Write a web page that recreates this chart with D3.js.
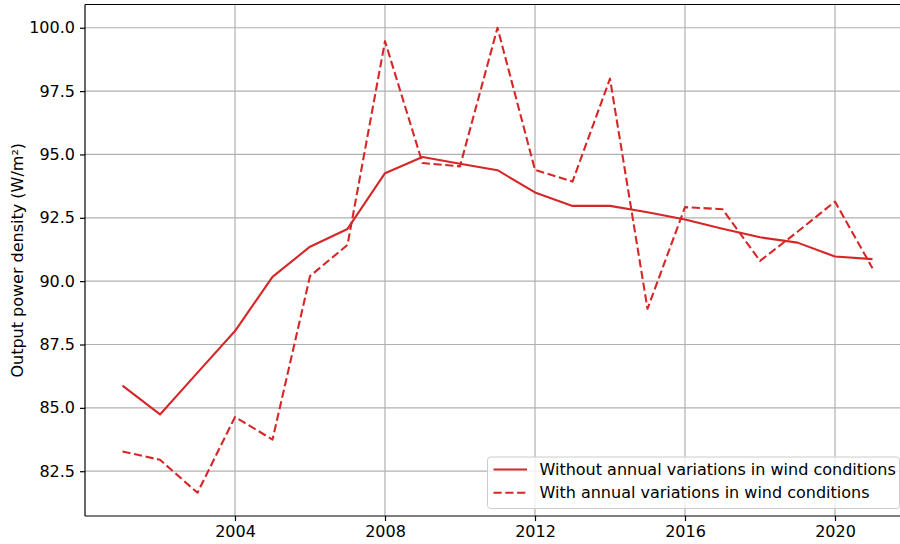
<!DOCTYPE html>
<html>
<head>
<meta charset="utf-8">
<script src="https://cdn.jsdelivr.net/npm/d3@7"></script>
<style>
  html, body { margin: 0; padding: 0; background: #fff; }
  svg { display: block; font-family: "DejaVu Sans", sans-serif; }
</style>
</head>
<body>
<svg id="chart" width="900" height="544"></svg>
<script>
// Annual output power density, 2001–2021
const years = [2001, 2002, 2003, 2004, 2005, 2006, 2007, 2008, 2009, 2010, 2011,
               2012, 2013, 2014, 2015, 2016, 2017, 2018, 2019, 2020, 2021];
const withoutVariation = [85.88, 84.74, 86.39, 88.03, 90.17, 91.36, 92.06, 94.26, 94.90, 94.63, 94.38,
                          93.50, 92.97, 92.97, 92.72, 92.43, 92.07, 91.73, 91.52, 90.97, 90.87];
const withVariation = [83.28, 82.95, 81.65, 84.64, 83.75, 90.20, 91.43, 99.47, 94.66, 94.53, 100.00,
                       94.39, 93.93, 97.99, 88.91, 92.92, 92.84, 90.80, 91.95, 93.14, 90.51];
const xTicks = [2004, 2008, 2012, 2016, 2020];
const yTicks = [82.5, 85.0, 87.5, 90.0, 92.5, 95.0, 97.5, 100.0];
const seriesNames = ["Without annual variations in wind conditions",
                     "With annual variations in wind conditions"];
const yLabel = "Output power density (W/m²)";

const red = "#d62728";
const fontSize = "16px";
const svg = d3.select("#chart");
const plot = { left: 85, right: 910, top: 4.5, bottom: 516 };

// 5% margins around the data, as in the default plotting style
const xPad = (d3.max(years) - d3.min(years)) * 0.05;
const allVals = withoutVariation.concat(withVariation);
const yMin = d3.min(allVals), yMax = d3.max(allVals);
const yPad = (yMax - yMin) * 0.05;

const x = d3.scaleLinear()
  .domain([d3.min(years) - xPad, d3.max(years) + xPad])
  .range([plot.left, plot.right]);
const y = d3.scaleLinear()
  .domain([yMin - yPad, yMax + yPad])
  .range([plot.bottom, plot.top]);

// grid
const grid = svg.append("g").attr("class", "grid");
grid.selectAll("line.v").data(xTicks).enter().append("line")
  .attr("x1", d => x(d)).attr("x2", d => x(d))
  .attr("y1", plot.top).attr("y2", plot.bottom)
  .attr("stroke", "#b0b0b0").attr("stroke-width", 1.2);
grid.selectAll("line.h").data(yTicks).enter().append("line")
  .attr("x1", plot.left).attr("x2", plot.right)
  .attr("y1", d => y(d)).attr("y2", d => y(d))
  .attr("stroke", "#b0b0b0").attr("stroke-width", 1.2);

// series
const line = (vals) => d3.line()
  .x((d, i) => x(years[i]))
  .y(d => y(d))(vals);

svg.append("path")
  .attr("d", line(withoutVariation))
  .attr("fill", "none").attr("stroke", red)
  .attr("stroke-width", 2.1).attr("stroke-linejoin", "round");
svg.append("path")
  .attr("d", line(withVariation))
  .attr("fill", "none").attr("stroke", red)
  .attr("stroke-width", 2.1).attr("stroke-dasharray", "8.2,3.6")
  .attr("stroke-linejoin", "round");

// axes
const xAxis = svg.append("g")
  .attr("transform", `translate(0,${plot.bottom})`)
  .call(d3.axisBottom(x).tickValues(xTicks).tickFormat(d3.format("d"))
    .tickSize(5).tickPadding(5));
const yAxis = svg.append("g")
  .attr("transform", `translate(${plot.left},0)`)
  .call(d3.axisLeft(y).tickValues(yTicks).tickFormat(d3.format(".1f"))
    .tickSize(5).tickPadding(5));
[xAxis, yAxis].forEach(a => {
  a.select(".domain").attr("stroke", "#000").attr("stroke-width", 1.2);
  a.selectAll(".tick line").attr("stroke", "#000").attr("stroke-width", 1.2);
  a.selectAll(".tick text").attr("fill", "#000")
    .attr("font-size", fontSize).attr("font-family", "DejaVu Sans, sans-serif");
});
xAxis.select(".domain").attr("d", `M${plot.left},0H${plot.right}`);
yAxis.select(".domain").attr("d", `M0,${plot.bottom}V${plot.top}`);

// top spine
svg.append("line")
  .attr("x1", plot.left).attr("x2", plot.right)
  .attr("y1", plot.top).attr("y2", plot.top)
  .attr("stroke", "#000").attr("stroke-width", 1.2);

// y label
svg.append("text")
  .attr("transform", `translate(23,${(plot.top + plot.bottom) / 2}) rotate(-90)`)
  .attr("text-anchor", "middle")
  .attr("font-size", fontSize)
  .attr("fill", "#000")
  .text(yLabel);

// legend
const lg = svg.append("g");
lg.append("rect")
  .attr("x", 487.5).attr("y", 457).attr("width", 412).attr("height", 51.5)
  .attr("rx", 3).attr("fill", "#fff").attr("fill-opacity", 0.8)
  .attr("stroke", "#cccccc").attr("stroke-width", 1);
const rows = [
  { name: seriesNames[0], dash: null, cy: 469.5 },
  { name: seriesNames[1], dash: "8.2,3.6", cy: 492.7 }
];
rows.forEach(r => {
  lg.append("line")
    .attr("x1", 493.5).attr("x2", 527).attr("y1", r.cy).attr("y2", r.cy)
    .attr("stroke", red).attr("stroke-width", 2.1)
    .attr("stroke-dasharray", r.dash);
  lg.append("text")
    .attr("x", 539.5).attr("y", r.cy).attr("dy", "0.36em")
    .attr("font-size", fontSize).attr("fill", "#000")
    .text(r.name);
});
</script>
</body>
</html>
